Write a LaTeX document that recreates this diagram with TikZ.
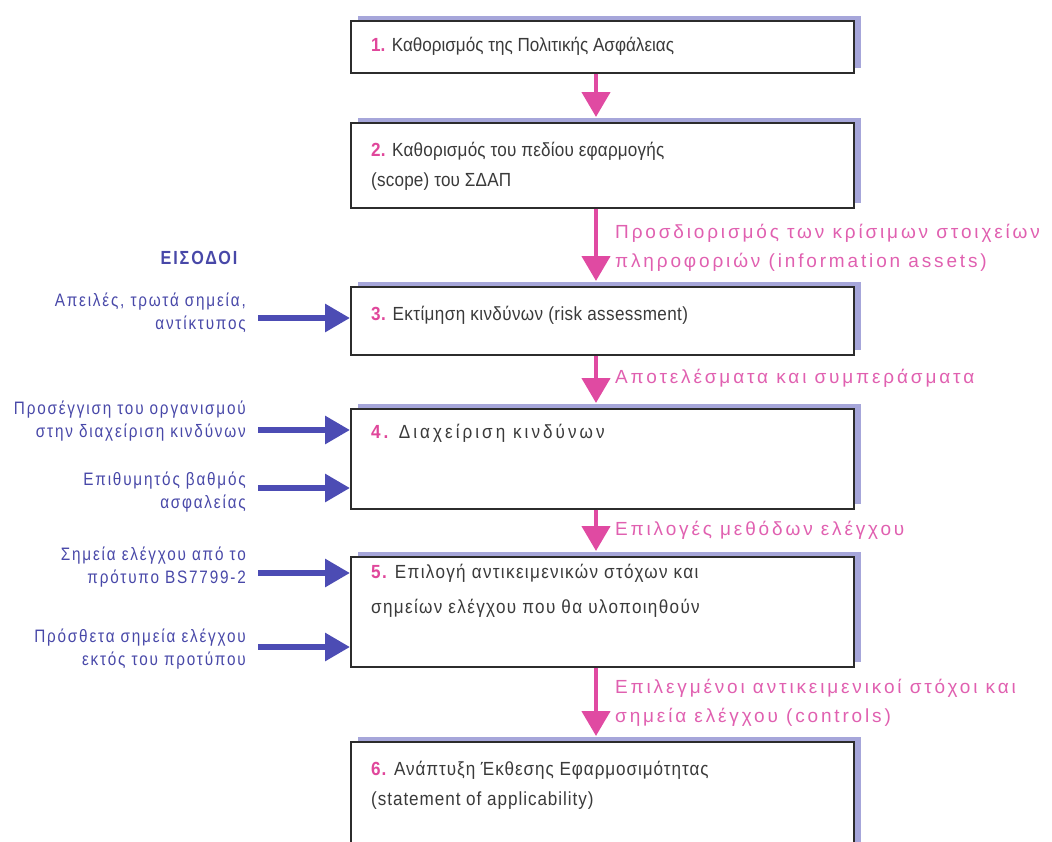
\documentclass[tikz,border=0pt]{standalone}
\usepackage{fontspec}
\setmainfont{Liberation Sans}
\newfontfamily\stepfont[FakeStretch=0.9]{Liberation Sans}
\newfontfamily\narrowfont[FakeStretch=0.85,LetterSpace=10]{Liberation Sans}
\newfontfamily\spacedfont[LetterSpace=15]{Liberation Sans}
\usetikzlibrary{arrows.meta,calc,shadows}

\definecolor{boxtext}{HTML}{3A3A3A}
\definecolor{stepnum}{HTML}{E0479B}
\definecolor{flowpink}{HTML}{E04AA2}
\definecolor{labelpink}{HTML}{E060B0}
\definecolor{inblue}{HTML}{4848A8}
\definecolor{arrowblue}{HTML}{4C4CB4}
\definecolor{shadowlav}{HTML}{A6A6DA}
\definecolor{framegray}{HTML}{2C2C2C}

\newcommand{\stepno}[1]{{\color{stepnum}\bfseries #1}}

\begin{document}
\begin{tikzpicture}[x=1pt,y=-1pt,
  stepbox/.style={draw=framegray, line width=1.6pt, fill=white,
    minimum width=503pt, inner sep=0pt, anchor=north west,
    general shadow={fill=shadowlav, shadow xshift=7pt, shadow yshift=5pt}},
  steptext/.style={anchor=west, align=left, inner sep=0pt, text=boxtext,
    font=\stepfont\addfontfeature{LetterSpace=#1}\fontsize{19}{30}\selectfont},
  steptext/.default=0,
  flowlabel/.style={anchor=west, align=left, inner sep=0pt, text=labelpink,
    font=\spacedfont\fontsize{19}{29}\selectfont},
  inlabel/.style={anchor=east, align=right, inner sep=0pt, text=inblue,
    font=\narrowfont\fontsize{18}{23}\selectfont},
  flowarrow/.style={draw=flowpink, line width=4.5pt, shorten >=5pt,
    -{Triangle[width=28pt,length=25pt]}},
  inarrow/.style={draw=arrowblue, line width=6pt,
    -{Triangle[width=27pt,length=25pt]}}
]
\useasboundingbox (0,0) rectangle (1052,841);
\clip (0,0) rectangle (1052,841);

% process steps
\node[stepbox, minimum height=52pt]  (b1) at (350,20)  {};
\node[stepbox, minimum height=85pt]  (b2) at (350,122) {};
\node[stepbox, minimum height=68pt]  (b3) at (350,286) {};
\node[stepbox, minimum height=100pt] (b4) at (350,408) {};
\node[stepbox, minimum height=110pt] (b5) at (350,556) {};
\node[stepbox, minimum height=130pt] (b6) at (350,741) {};

\node[steptext]     (t1) at (371,46)  {\stepno{1.} Καθορισμός της Πολιτικής Ασφάλειας};
\node[steptext=1]   (t2) at (371,166) {\stepno{2.} Καθορισμός του πεδίου εφαρμογής\\(scope) του ΣΔΑΠ};
\node[steptext=2]   (t3) at (371,315) {\stepno{3.} Εκτίμηση κινδύνων (risk assessment)};
\node[steptext=16]  (t4) at (371,433) {\stepno{4.} Διαχείριση κινδύνων};
\node[steptext=7]   (t5) at (371,591) {\stepno{5.} Επιλογή αντικειμενικών στόχων και\\[5pt]σημείων ελέγχου που θα υλοποιηθούν};
\node[steptext=5]   (t6) at (371,785) {\stepno{6.} Ανάπτυξη Έκθεσης Εφαρμοσιμότητας\\(statement of applicability)};

% flow between the steps
\coordinate (axis) at (596,0);
\draw[flowarrow] (b1.south -| axis) -- (b2.north -| axis);
\draw[flowarrow] (b2.south -| axis) -- (b3.north -| axis);
\draw[flowarrow] (b3.south -| axis) -- (b4.north -| axis);
\draw[flowarrow] (b4.south -| axis) -- (b5.north -| axis);
\draw[flowarrow] (b5.south -| axis) -- (b6.north -| axis);

\node[flowlabel] (f2) at (615,248) {Προσδιορισμός των κρίσιμων στοιχείων\\πληροφοριών (information assets)};
\node[flowlabel] (f3) at (615,378) {Αποτελέσματα και συμπεράσματα};
\node[flowlabel] (f4) at (615,530) {Επιλογές μεθόδων ελέγχου};
\node[flowlabel] (f5) at (615,703) {Επιλεγμένοι αντικειμενικοί στόχοι και\\σημεία ελέγχου (controls)};

% inputs
\node[text=inblue, inner sep=0pt, font=\narrowfont\bfseries\fontsize{19}{20}\selectfont] (inputs) at (199,258) {ΕΙΣΟΔΟΙ};

\node[inlabel] (i1) at (246,313) {Απειλές, τρωτά σημεία,\\αντίκτυπος};
\node[inlabel] (i2) at (246,421) {Προσέγγιση του οργανισμού\\στην διαχείριση κινδύνων};
\node[inlabel] (i3) at (246,492) {Επιθυμητός βαθμός\\ασφαλείας};
\node[inlabel] (i4) at (246,567) {Σημεία ελέγχου από το\\πρότυπο BS7799-2};
\node[inlabel] (i5) at (246,649) {Πρόσθετα σημεία ελέγχου\\εκτός του προτύπου};

\coordinate (s1) at (258,318);
\coordinate (s2) at (258,430);
\coordinate (s3) at (258,488);
\coordinate (s4) at (258,573);
\coordinate (s5) at (258,647);
\draw[inarrow] (s1) -- (s1 -| b3.west);
\draw[inarrow] (s2) -- (s2 -| b4.west);
\draw[inarrow] (s3) -- (s3 -| b4.west);
\draw[inarrow] (s4) -- (s4 -| b5.west);
\draw[inarrow] (s5) -- (s5 -| b5.west);
\end{tikzpicture}
\end{document}
